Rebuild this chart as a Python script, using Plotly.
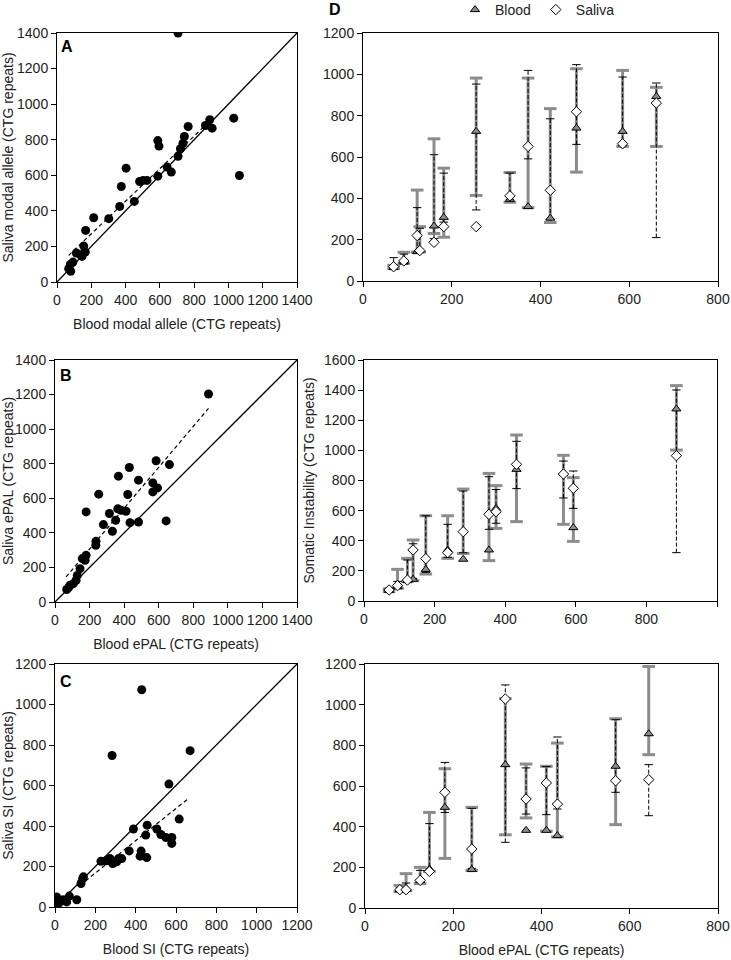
import plotly.graph_objects as go

W, H = 731, 960

# ---------------- Panel A: modal allele ----------------
a_blood = [706, 1031, 1064, 891, 866, 905, 765, 743, 735, 720, 706, 588, 595, 588, 642, 667,
           403, 482, 502, 525, 375, 366, 451, 302, 214, 167, 156, 165, 136, 113, 146, 93, 78, 68, 80]
a_saliva = [1400, 921, 599, 912, 880, 865, 874, 818, 780, 749, 707, 795, 764, 595, 646, 618,
            640, 565, 571, 571, 537, 425, 453, 356, 361, 290, 202, 168, 153, 163, 144, 112, 99, 75, 60]
a_fit_x = [68, 880]
a_fit_y = [150, 894]

# ---------------- Panel B: ePAL ----------------
b_blood = [888, 585, 662, 430, 367, 483, 566, 593, 566, 253, 421, 180, 363, 382, 411, 315, 280,
           483, 351, 434, 643, 332, 237, 236, 180, 158, 174, 145, 129, 122, 106, 87, 68, 80]
b_saliva = [1203, 817, 795, 778, 728, 705, 689, 660, 637, 624, 622, 521, 539, 531, 525, 512, 448,
            463, 473, 459, 469, 409, 351, 328, 270, 251, 241, 193, 154, 125, 106, 97, 72, 85]
b_fit_x = [64, 888]
b_fit_y = [145, 1120]

# ---------------- Panel C: SI ----------------
c_blood = [430, 283, 670, 565, 616, 389, 457, 505, 450, 525, 550, 579, 579, 368, 427, 422, 455,
           273, 315, 331, 260, 286, 306, 228, 253, 129, 141, 137, 71, 108, 33, 8, 17, 58, 41]
c_saliva = [1073, 748, 772, 607, 434, 385, 404, 385, 355, 358, 343, 343, 314, 277, 276, 251, 244,
            239, 239, 239, 231, 215, 223, 226, 228, 116, 149, 140, 54, 36, 30, 50, 17, 25, 36]
c_fit_x = [124, 662]
c_fit_y = [107, 536]

# ---------------- Panel D1: modal allele by blood modal ----------------
d1_x = [69, 92, 122, 128, 160, 182, 255, 331, 372, 422, 481, 585, 661]
d1_blood = [65, 95, 142, 150, 266, 308, 724, 395, 360, 304, 740, 724, 893]
d1_blood_lo = [60, 85, 140, 140, 230, 212, 414, 381, 355, 283, 527, 651, 651]
d1_blood_hi = [75, 139, 440, 263, 688, 546, 982, 525, 982, 834, 1027, 1019, 937]
d1_saliva = [69, 97, 220, 147, 187, 263, 263, 412, 651, 439, 819, 664, 861]
d1_saliva_lo = [62, 82, 140, 140, 205, 285, 344, 395, 591, 300, 661, 655, 210]
d1_saliva_hi = [113, 130, 355, 255, 611, 522, 953, 522, 1019, 785, 1047, 987, 958]

# ---------------- Panel D2: somatic instability by blood ePAL ----------------
d2_x = [71, 95, 123, 139, 175, 237, 281, 354, 374, 432, 565, 593, 885]
d2_blood = [70, 95, 135, 144, 210, 339, 277, 339, 615, 874, 850, 487, 1275]
d2_blood_lo = [62, 85, 130, 135, 179, 283, 316, 268, 482, 527, 509, 396, 1002]
d2_blood_hi = [80, 210, 283, 405, 566, 566, 743, 847, 766, 1102, 967, 819, 1430]
d2_saliva = [73, 102, 139, 339, 281, 321, 460, 575, 593, 907, 843, 748, 965]
d2_saliva_lo = [65, 90, 130, 150, 190, 290, 320, 476, 516, 746, 684, 615, 321]
d2_saliva_hi = [85, 130, 272, 380, 566, 509, 730, 825, 740, 1060, 929, 863, 1401]

# ---------------- Panel D3: ePAL by blood ePAL ----------------
d3_x = [79, 93, 125, 146, 181, 242, 318, 365, 411, 436, 568, 643]
d3_blood = [90, 95, 136, 192, 495, 189, 705, 382, 382, 356, 697, 857]
d3_blood_lo = [80, 85, 120, 180, 244, 185, 360, 443, 378, 350, 410, 754]
d3_blood_hi = [111, 169, 200, 470, 685, 495, 1030, 708, 697, 811, 931, 1188]
d3_saliva = [90, 90, 136, 180, 569, 290, 1028, 536, 615, 511, 626, 631]
d3_saliva_lo = [82, 82, 125, 175, 470, 195, 323, 462, 459, 487, 569, 454]
d3_saliva_hi = [100, 123, 185, 415, 716, 490, 1097, 689, 695, 841, 926, 705]

FONT = "Liberation Sans, Arial, sans-serif"

fig = go.Figure()


def fx(px):
    return px / W


def fy(py):
    return 1 - py / H


def dom_x(p0, p1):
    return [fx(p0), fx(p1)]


def dom_y(top, bottom):
    return [fy(bottom), fy(top)]


panels = {
    # name: (xaxis id, yaxis id, xdom px, ydom px, xrange, yrange)
    "A": ("x", "y", (57, 297), (33, 282), 1400, 1400),
    "B": ("x2", "y2", (55, 297), (360, 602), 1400, 1400),
    "C": ("x3", "y3", (55, 297), (664, 907), 1200, 1200),
    "D1": ("x4", "y4", (363, 718), (33, 281), 800, 1200),
    "D2": ("x5", "y5", (364, 717), (360, 601), 1000, 1600),
    "D3": ("x6", "y6", (365, 718), (664, 908), 800, 1200),
}


def scatter_panel(key, xs, ys, fitx, fity, diag):
    xa, ya = panels[key][0], panels[key][1]
    fig.add_trace(go.Scatter(x=[0, diag], y=[0, diag], mode="lines",
                             line=dict(color="black", width=1.3),
                             xaxis=xa, yaxis=ya, showlegend=False, hoverinfo="skip"))
    fig.add_trace(go.Scatter(x=fitx, y=fity, mode="lines",
                             line=dict(color="black", width=1.2, dash="4px,3px"),
                             xaxis=xa, yaxis=ya, showlegend=False, hoverinfo="skip"))
    fig.add_trace(go.Scatter(x=xs, y=ys, mode="markers",
                             marker=dict(color="black", size=9, line=dict(width=0)),
                             xaxis=xa, yaxis=ya, showlegend=False))


scatter_panel("A", a_blood, a_saliva, a_fit_x, a_fit_y, 1400)
scatter_panel("B", b_blood, b_saliva, b_fit_x, b_fit_y, 1400)
scatter_panel("C", c_blood, c_saliva, c_fit_x, c_fit_y, 1200)


def segs(xs, lo, hi):
    X, Y = [], []
    for x, l, h in zip(xs, lo, hi):
        X += [x, x, None]
        Y += [l, h, None]
    return X, Y


def range_panel(key, xs, b, blo, bhi, s, slo, shi, legend):
    xa, ya = panels[key][0], panels[key][1]
    # blood range bars (thick grey)
    X, Y = segs(xs, blo, bhi)
    fig.add_trace(go.Scatter(x=X, y=Y, mode="lines", line=dict(color="#8c8c8c", width=3),
                             xaxis=xa, yaxis=ya, showlegend=False, hoverinfo="skip"))
    fig.add_trace(go.Scatter(x=list(xs) + list(xs), y=list(blo) + list(bhi), mode="markers",
                             marker=dict(symbol="line-ew", size=9,
                                         line=dict(color="#8c8c8c", width=3)),
                             xaxis=xa, yaxis=ya, showlegend=False, hoverinfo="skip"))
    # saliva range bars (thin dashed black)
    X, Y = segs(xs, slo, shi)
    fig.add_trace(go.Scatter(x=X, y=Y, mode="lines",
                             line=dict(color="black", width=1, dash="4px,2px"),
                             xaxis=xa, yaxis=ya, showlegend=False, hoverinfo="skip"))
    fig.add_trace(go.Scatter(x=list(xs) + list(xs), y=list(slo) + list(shi), mode="markers",
                             marker=dict(symbol="line-ew", size=6,
                                         line=dict(color="black", width=1)),
                             xaxis=xa, yaxis=ya, showlegend=False, hoverinfo="skip"))
    fig.add_trace(go.Scatter(x=xs, y=b, mode="markers", name="Blood",
                             marker=dict(symbol="triangle-up", size=8, color="#8c8c8c",
                                         line=dict(color="black", width=1)),
                             xaxis=xa, yaxis=ya, showlegend=legend))
    fig.add_trace(go.Scatter(x=xs, y=s, mode="markers", name="Saliva",
                             marker=dict(symbol="diamond", size=8, color="white",
                                         line=dict(color="black", width=1)),
                             xaxis=xa, yaxis=ya, showlegend=legend))


range_panel("D1", d1_x, d1_blood, d1_blood_lo, d1_blood_hi,
            d1_saliva, d1_saliva_lo, d1_saliva_hi, True)
range_panel("D2", d2_x, d2_blood, d2_blood_lo, d2_blood_hi,
            d2_saliva, d2_saliva_lo, d2_saliva_hi, False)
range_panel("D3", d3_x, d3_blood, d3_blood_lo, d3_blood_hi,
            d3_saliva, d3_saliva_lo, d3_saliva_hi, False)

titles = {
    "A": ("Blood modal allele (CTG repeats)", "Saliva modal allele (CTG repeats)"),
    "B": ("Blood ePAL (CTG repeats)", "Saliva ePAL (CTG repeats)"),
    "C": ("Blood SI (CTG repeats)", "Saliva SI (CTG repeats)"),
    "D1": ("", ""),
    "D2": ("", "Somatic Instability (CTG repeats)"),
    "D3": ("Blood ePAL (CTG repeats)", ""),
}

layout = dict(
    width=W, height=H, autosize=False,
    margin=dict(l=0, r=0, t=0, b=0, autoexpand=False),
    paper_bgcolor="white", plot_bgcolor="white",
    font=dict(family=FONT, size=14, color="#222"),
    showlegend=True,
    legend=dict(orientation="h", xref="container", yref="container",
                x=fx(455), y=fy(10), xanchor="left", yanchor="middle",
                font=dict(size=14, color="#222"), bgcolor="rgba(0,0,0,0)",
                itemwidth=30, tracegroupgap=0),
)

for key, (xa, ya, xd, yd, xr, yr) in panels.items():
    xname = "xaxis" if xa == "x" else "xaxis" + xa[1:]
    yname = "yaxis" if ya == "y" else "yaxis" + ya[1:]
    common = dict(showgrid=False, zeroline=False, showline=True, linecolor="black",
                  linewidth=1, mirror=True, ticks="outside", ticklen=5, tickcolor="black",
                  tickfont=dict(size=14, color="#222"), dtick=200, tickangle=0,
                  automargin=False)
    layout[xname] = dict(common, domain=dom_x(*xd), range=[0, xr], anchor=ya,
                         title=dict(text=titles[key][0], font=dict(size=14, color="#222"),
                                    standoff=12))
    layout[yname] = dict(common, domain=dom_y(*yd), range=[0, yr], anchor=xa,
                         title=dict(text=titles[key][1], font=dict(size=14, color="#222"),
                                    standoff=6))

fig.update_layout(**layout)

# panel letters
letters = [("A", 67, 47), ("B", 66, 375), ("C", 66, 681), ("D", 335, 9)]
for t, px, py in letters:
    fig.add_annotation(text="<b>%s</b>" % t, x=fx(px), y=fy(py), xref="paper", yref="paper",
                       showarrow=False, xanchor="center", yanchor="middle",
                       font=dict(size=16, color="black", family=FONT))

# remove the browser's default 8px body margin so the figure fills the window exactly
fig.write_html("out.html", config={"displayModeBar": False},
               post_script="document.body.style.margin='0';document.body.style.overflow='hidden';")
